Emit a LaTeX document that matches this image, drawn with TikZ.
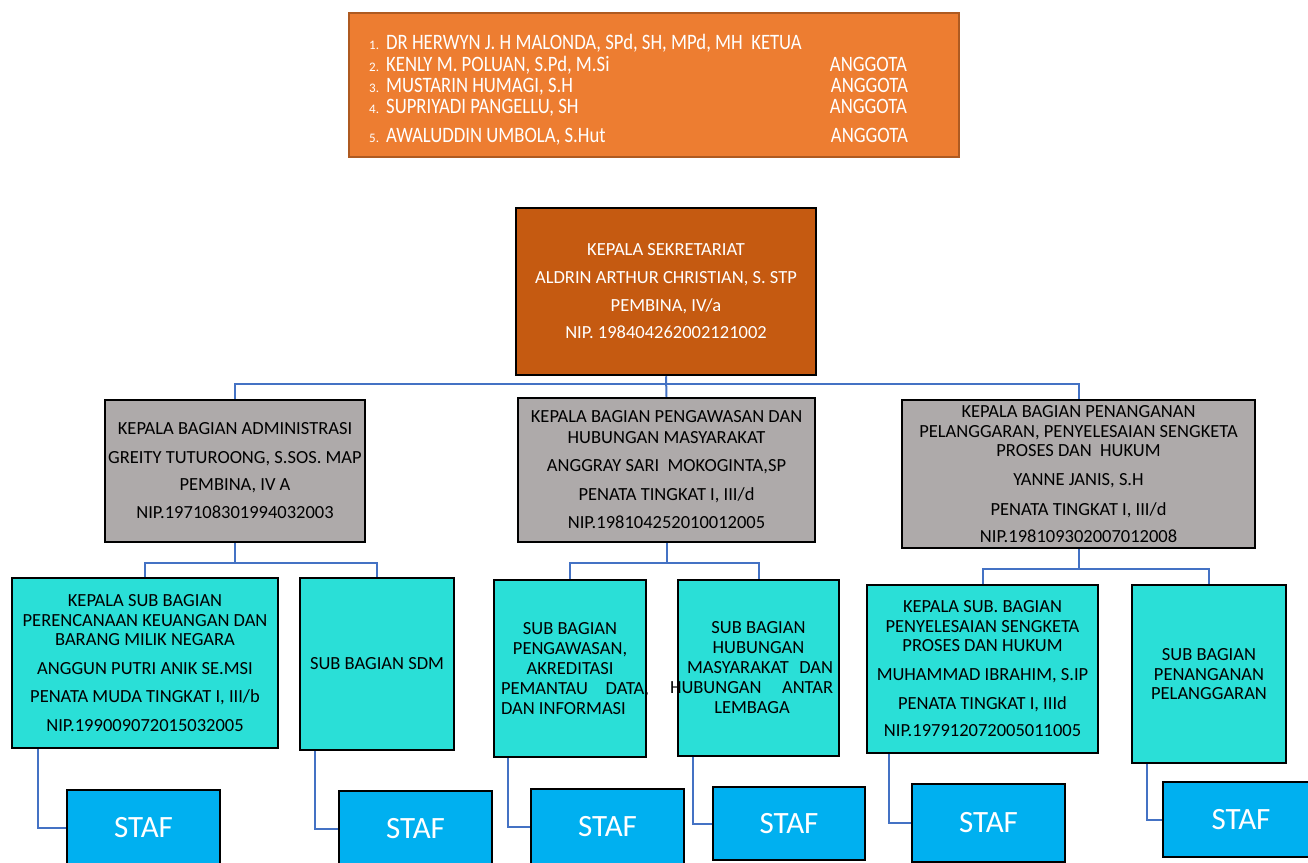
\documentclass[tikz,border=0pt]{standalone}
\usepackage{fontspec}
\setmainfont{Carlito}
\newfontfamily\condfont[FakeStretch=0.85]{Carlito}
\definecolor{toporange}{HTML}{ED7D31}
\definecolor{topborder}{HTML}{AE5A21}
\definecolor{headbrown}{HTML}{C55A11}
\definecolor{boxgrey}{HTML}{AEAAAA}
\definecolor{subteal}{HTML}{2ADFD7}
\definecolor{stafblue}{HTML}{00B0F0}
\definecolor{linkblue}{HTML}{4472C4}
\begin{document}
\begin{tikzpicture}[x=1pt,y=-1pt,
  box/.style={draw=black, line width=2.5pt, inner sep=0pt, align=center, font=\fontsize{18.5}{20}\selectfont},
  greybox/.style={box, fill=boxgrey},
  subbox/.style={box, fill=subteal},
  stafbox/.style={box, fill=stafblue, text=white, font=\fontsize{31}{36}\selectfont, minimum width=153pt},
  link/.style={draw=linkblue, line width=2pt},
  toptxt/.style={text=white, inner sep=0pt, font=\condfont\fontsize{22}{24}\selectfont},
  numtxt/.style={text=white, inner sep=0pt, font=\fontsize{13}{15}\selectfont}
]
\useasboundingbox (0,0) rectangle (1308,862);
\clip (0,0) rectangle (1308,862);

% top committee box
\node[draw=topborder, line width=2pt, fill=toporange, minimum width=610pt, minimum height=144pt, inner sep=0pt] (top) at (654,85) {};
\node[numtxt, anchor=base west] (k1) at (369,49) {1.};
\node[numtxt, anchor=base west] (k2) at (369,71) {2.};
\node[numtxt, anchor=base west] (k3) at (369,92) {3.};
\node[numtxt, anchor=base west] (k4) at (369,113) {4.};
\node[numtxt, anchor=base west] (k5) at (369,142) {5.};
\node[toptxt, anchor=base west] (m1) at (386,49) {DR HERWYN J. H MALONDA, SPd, SH, MPd, MH\ \ KETUA};
\node[toptxt, anchor=base west] (m2) at (386,71) {KENLY M. POLUAN, S.Pd, M.Si};
\node[toptxt, anchor=base west] (m3) at (386,92) {MUSTARIN HUMAGI, S.H};
\node[toptxt, anchor=base west] (m4) at (386,113) {SUPRIYADI PANGELLU, SH};
\node[toptxt, anchor=base west] (m5) at (386,142) {AWALUDDIN UMBOLA, S.Hut};
\node[toptxt, anchor=base east] (r2) at (907,71) {ANGGOTA};
\node[toptxt, anchor=base east] (r3) at (908,92) {ANGGOTA};
\node[toptxt, anchor=base east] (r4) at (907,113) {ANGGOTA};
\node[toptxt, anchor=base east] (r5) at (908,142) {ANGGOTA};

% head
\node[box, fill=headbrown, text=white, minimum width=300pt, minimum height=167pt] (head) at (666,291.5)
  {KEPALA SEKRETARIAT\\[7.7pt]ALDRIN ARTHUR CHRISTIAN, S. STP\\[7.7pt]PEMBINA, IV/a\\[7.7pt]NIP. 198404262002121002};

% grey boxes
\node[greybox, minimum width=260pt, minimum height=142pt] (g1) at (235,471)
  {KEPALA BAGIAN ADMINISTRASI\\[9pt]GREITY TUTUROONG, S.SOS. MAP\\[7pt]PEMBINA, IV A\\[8pt]NIP.197108301994032003};
\node[greybox, minimum width=297pt, minimum height=144pt] (g2) at (666.5,470)
  {KEPALA BAGIAN PENGAWASAN DAN\\[1pt]HUBUNGAN MASYARAKAT\\[8pt]ANGGRAY SARI\ \ MOKOGINTA,SP\\[9pt]PENATA TINGKAT I, III/d\\[8pt]NIP.198104252010012005};
\node[greybox, minimum width=353pt, minimum height=148pt] (g3) at (1078.5,474)
  {KEPALA BAGIAN PENANGANAN\\PELANGGARAN, PENYELESAIAN SENGKETA\\[-1pt]PROSES DAN\ \ HUKUM\\[9pt]YANNE JANIS, S.H\\[10pt]PENATA TINGKAT I, III/d\\[7pt]NIP.198109302007012008};

% sub boxes
\node[subbox, minimum width=266pt, minimum height=170pt] (s1) at (145,663)
  {KEPALA SUB BAGIAN\\PERENCANAAN KEUANGAN DAN\\[-1pt]BARANG MILIK NEGARA\\[9pt]ANGGUN PUTRI ANIK SE.MSI\\[8pt]PENATA MUDA TINGKAT I, III/b\\[9pt]NIP.199009072015032005};
\node[subbox, minimum width=154pt, minimum height=172pt] (s2) at (377,664) {SUB BAGIAN SDM};
\node[subbox, minimum width=152pt, minimum height=177pt] (s3) at (570,668.5)
  {SUB BAGIAN\\PENGAWASAN,\\AKREDITASI\\\makebox[0pt]{\hspace*{10pt}\makebox[148pt]{PEMANTAU\hfill DATA,}}\\\makebox[0pt]{\hspace*{10pt}\makebox[148pt][l]{DAN INFORMASI}}};
\node[subbox, minimum width=161pt, minimum height=176pt] (s4) at (758.5,668)
  {SUB BAGIAN\\HUBUNGAN\\\makebox[0pt]{\hspace*{3pt}\makebox[146pt]{MASYARAKAT\hfill DAN}}\\\makebox[0pt]{\makebox[163pt]{HUBUNGAN\hfill ANTAR}\hspace*{14pt}}\\\makebox[0pt]{LEMBAGA\hspace*{13pt}}};
\node[subbox, minimum width=231pt, minimum height=168pt] (s5) at (982.5,669)
  {KEPALA SUB. BAGIAN\\PENYELESAIAN SENGKETA\\[-1pt]PROSES DAN HUKUM\\[9pt]MUHAMMAD IBRAHIM, S.IP\\[9pt]PENATA TINGKAT I, IIId\\[7pt]NIP.197912072005011005};
\node[subbox, minimum width=154pt, minimum height=178pt] (s6) at (1209,674)
  {SUB BAGIAN\\PENANGANAN\\[-1pt]PELANGGARAN};

% staf boxes
\node[stafbox, minimum height=75pt] (f1) at (143.5,827.5) {STAF};
\node[stafbox, minimum height=75pt] (f2) at (415.5,828.5) {STAF};
\node[stafbox, minimum height=75pt] (f3) at (607.5,826.5) {STAF};
\node[stafbox, minimum width=152pt, minimum height=73pt] (f4) at (789,823.5) {STAF};
\node[stafbox, minimum height=78pt] (f5) at (988.5,823) {STAF};
\node[stafbox, minimum width=156pt, minimum height=75pt] (f6) at (1241,819.5) {STAF};

% connectors
\coordinate (bus1) at (666,384);
\coordinate (bus2) at (235,563);
\coordinate (bus3) at (666.5,563);
\coordinate (bus4) at (1078.5,569);
\draw[link] (head.south) -- (g2.north);
\draw[link] (g1.north) |- (bus1) -| (g3.north);
\draw[link] (g1.south) -- (bus2);
\draw[link] (s1.north) |- (bus2) -| (s2.north);
\draw[link] (g2.south) -- (bus3);
\draw[link] (s3.north) |- (bus3) -| (s4.north);
\draw[link] (g3.south) -- (bus4);
\draw[link] (s5.north) |- (bus4) -| (s6.north);
\draw[link] ([xshift=27pt]s1.south west) |- (f1.west);
\draw[link] ([xshift=16pt]s2.south west) |- (f2.west);
\draw[link] ([xshift=15pt]s3.south west) |- (f3.west);
\draw[link] ([xshift=16pt]s4.south west) |- (f4.west);
\draw[link] ([xshift=23pt]s5.south west) |- (f5.west);
\draw[link] ([xshift=16pt]s6.south west) |- (f6.west);
\end{tikzpicture}
\end{document}
